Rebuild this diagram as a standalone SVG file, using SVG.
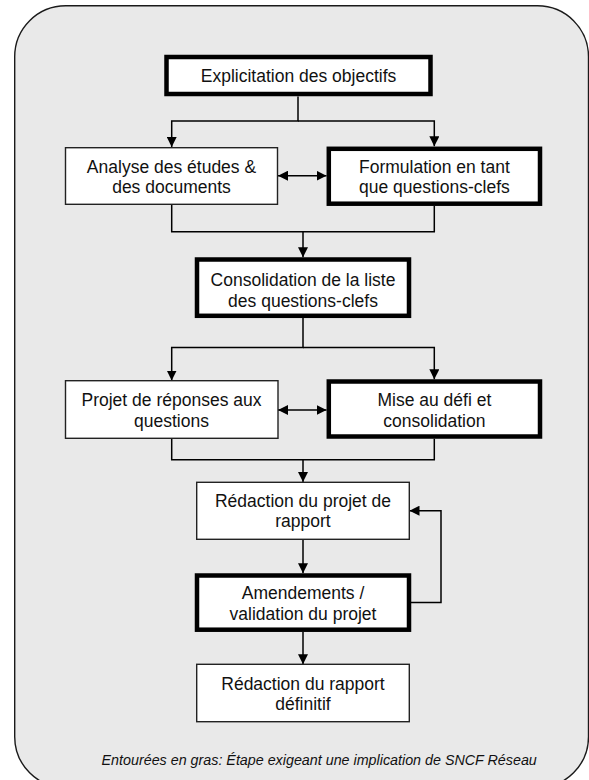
<svg xmlns="http://www.w3.org/2000/svg" width="589" height="780" viewBox="0 0 589 780">
<style>
.bg{fill:#e9e9e9;stroke:#1a1a1a;stroke-width:1.4}
.thin{fill:#fff;stroke:#222;stroke-width:1.4}
.thick{fill:#fff;stroke:#000;stroke-width:4.5}
.t{font-family:"Liberation Sans",Arial,sans-serif;font-size:17.5px;fill:#111;text-anchor:middle}
.cap{font-family:"Liberation Sans",Arial,sans-serif;font-size:14.3px;font-style:italic;fill:#111;text-anchor:middle}
.c{fill:none;stroke:#000;stroke-width:1.5}
</style>
<defs>
<marker id="ah" viewBox="0 0 10 10" refX="10" refY="5" markerWidth="10" markerHeight="10" markerUnits="userSpaceOnUse" orient="auto-start-reverse">
<path d="M0,0 L10,5 L0,10 z" fill="#000"/>
</marker>
</defs>
<rect class="bg" x="14.7" y="5.7" width="573.8" height="782" rx="51" ry="51"/>
<g id="connectors">
<path class="c" d="M298,96.5 V121 H171.7 V147" marker-end="url(#ah)"/>
<path class="c" d="M298,121 H434.3 V146.3" marker-end="url(#ah)"/>
<path class="c" d="M278,175.7 H326.5" marker-start="url(#ah)" marker-end="url(#ah)"/>
<path class="c" d="M171.7,204.5 V231.7 H434.3 V206"/>
<path class="c" d="M303,231.7 V257.3" marker-end="url(#ah)"/>
<path class="c" d="M303,318 V347.5 H171.7 V380.5" marker-end="url(#ah)"/>
<path class="c" d="M303,347.5 H434.3 V379.3" marker-end="url(#ah)"/>
<path class="c" d="M278,410 H326.5" marker-start="url(#ah)" marker-end="url(#ah)"/>
<path class="c" d="M171.7,438.5 V459.7 H434.3 V438.7"/>
<path class="c" d="M303,459.7 V482" marker-end="url(#ah)"/>
<path class="c" d="M303,539.5 V573.3" marker-end="url(#ah)"/>
<path class="c" d="M411,602.6 H441 V510.7 H409.5" marker-end="url(#ah)"/>
<path class="c" d="M303,632 V664.3" marker-end="url(#ah)"/>
</g>
<g id="explicitation">
<rect class="thick" x="166.5" y="57" width="264" height="37"/>
<text class="t" x="298.5" y="82">Explicitation des objectifs</text>
</g>
<g id="analyse">
<rect class="thin" x="65.5" y="147.7" width="212" height="56.6"/>
<text class="t" x="171.5" y="172.5">Analyse des études &amp;</text>
<text class="t" x="171.5" y="193">des documents</text>
</g>
<g id="formulation">
<rect class="thick" x="328.8" y="148.8" width="211.2" height="54.9"/>
<text class="t" x="434.4" y="172.5">Formulation en tant</text>
<text class="t" x="434.4" y="193">que questions-clefs</text>
</g>
<g id="consolidation">
<rect class="thick" x="197" y="259.5" width="212" height="56.3"/>
<text class="t" x="303" y="286">Consolidation de la liste</text>
<text class="t" x="303" y="306.5">des questions-clefs</text>
</g>
<g id="projet">
<rect class="thin" x="65.5" y="380.7" width="212.5" height="57.6"/>
<text class="t" x="171.5" y="406">Projet de réponses aux</text>
<text class="t" x="171.5" y="426.7">questions</text>
</g>
<g id="mise">
<rect class="thick" x="328.8" y="381.5" width="211.2" height="55"/>
<text class="t" x="434.4" y="406">Mise au défi et</text>
<text class="t" x="434.4" y="426.7">consolidation</text>
</g>
<g id="redaction-projet">
<rect class="thin" x="196.7" y="482.3" width="212.6" height="57"/>
<text class="t" x="303" y="506.7">Rédaction du projet de</text>
<text class="t" x="303" y="527.3">rapport</text>
</g>
<g id="amendements">
<rect class="thick" x="197" y="575.5" width="212" height="54.2"/>
<text class="t" x="303" y="599.3">Amendements /</text>
<text class="t" x="303" y="620">validation du projet</text>
</g>
<g id="redaction-finale">
<rect class="thin" x="196.7" y="664.3" width="212.6" height="57.4"/>
<text class="t" x="303" y="689.5">Rédaction du rapport</text>
<text class="t" x="303" y="710.2">définitif</text>
</g>
<text class="cap" x="319.2" y="765">Entourées en gras: Étape exigeant une implication de SNCF Réseau</text>
</svg>
